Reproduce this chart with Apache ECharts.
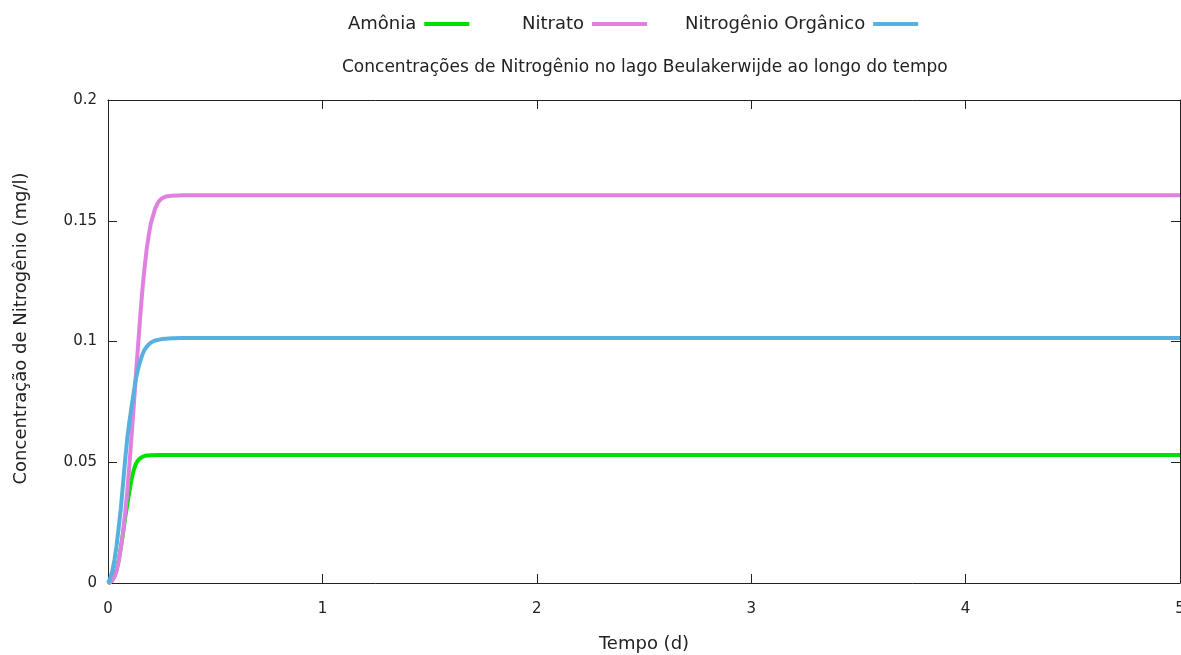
<!DOCTYPE html>
<html>
<head>
<meta charset="utf-8">
<script src="https://cdn.jsdelivr.net/npm/echarts@6/dist/echarts.min.js"></script>
<style>
html,body{margin:0;padding:0;background:#fff;}
#chart{width:1181px;height:655px;}
</style>
</head>
<body>
<div id="chart"></div>
<script>
// ---- data ----
const seriesNames = ['Amônia', 'Nitrato', 'Nitrogênio Orgânico'];
const xTicks = [0, 1, 2, 3, 4, 5];
const yTicks = [0, 0.05, 0.1, 0.15, 0.2];

const amoniaT = [0, 0.01, 0.02, 0.03, 0.04, 0.05, 0.06, 0.07, 0.08, 0.09, 0.10, 0.11, 0.12, 0.13, 0.14, 0.15, 0.16, 0.17, 0.18, 0.20, 0.25, 0.3, 1, 2, 3, 4, 5];
const amoniaV = [0, 0.0003, 0.0012, 0.0028, 0.0055, 0.0095, 0.0148, 0.0205, 0.027, 0.0325, 0.038, 0.043, 0.0467, 0.0493, 0.0508, 0.0517, 0.0522, 0.0526, 0.0528, 0.0529, 0.053, 0.053, 0.053, 0.053, 0.053, 0.053, 0.053];

const nitratoT = [0, 0.01, 0.02, 0.03, 0.04, 0.05, 0.06, 0.07, 0.08, 0.09, 0.10, 0.11, 0.12, 0.13, 0.14, 0.15, 0.16, 0.17, 0.18, 0.19, 0.20, 0.21, 0.22, 0.23, 0.24, 0.25, 0.27, 0.30, 0.35, 1, 2, 3, 4, 5];
const nitratoV = [0, 0.0003, 0.001, 0.0025, 0.005, 0.009, 0.0145, 0.021, 0.029, 0.038, 0.049, 0.061, 0.073, 0.086, 0.098, 0.110, 0.121, 0.130, 0.138, 0.144, 0.149, 0.152, 0.155, 0.157, 0.1583, 0.1592, 0.160, 0.1604, 0.1606, 0.1606, 0.1606, 0.1606, 0.1606, 0.1606];

const organicoT = [0, 0.01, 0.02, 0.03, 0.04, 0.05, 0.06, 0.07, 0.08, 0.09, 0.10, 0.11, 0.12, 0.13, 0.14, 0.15, 0.16, 0.17, 0.18, 0.19, 0.20, 0.22, 0.25, 0.30, 0.35, 1, 2, 3, 4, 5];
const organicoV = [0, 0.0018, 0.005, 0.0095, 0.0155, 0.023, 0.031, 0.041, 0.051, 0.060, 0.067, 0.073, 0.079, 0.0845, 0.0885, 0.0918, 0.0945, 0.0965, 0.0978, 0.0988, 0.0996, 0.1004, 0.101, 0.1013, 0.1014, 0.1014, 0.1014, 0.1014, 0.1014, 0.1014];

const titleText = 'Concentrações de Nitrogênio no lago Beulakerwijde ao longo do tempo';
const xName = 'Tempo (d)';
const yName = 'Concentração de Nitrogênio (mg/l)';

// ---- chart ----
const FONT = 'DejaVu Sans, sans-serif';
const TXT = '#222';
const colors = ['#00e000', '#e080e0', '#56b0e0'];
const zip = (t, v) => t.map((x, i) => [x, v[i]]);

const gridL = 108, gridT = 100, gridW = 1072, gridH = 483;

function legendAt(name, left, w) {
  return {
    data: [name], left: left, top: 10, align: 'right',
    icon: 'rect', itemWidth: w, itemHeight: 4, itemGap: 0,
    textStyle: {fontFamily: FONT, fontSize: 18, color: TXT, padding: [0, 3, 0, 0]}
  };
}

const chart = echarts.init(document.getElementById('chart'), null, {renderer: 'canvas'});
const axisCommon = {
  min: 0,
  axisLine: {show: true, onZero: false, lineStyle: {color: '#222', width: 1}},
  axisTick: {show: true, inside: true, length: 9, lineStyle: {color: '#222'}},
  splitLine: {show: false}
};
chart.setOption({
  animation: false,
  backgroundColor: '#fff',
  color: colors,
  title: {
    text: titleText, left: 337, top: 54,
    textStyle: {fontFamily: FONT, fontSize: 17, fontWeight: 'normal', color: TXT}
  },
  legend: [legendAt(seriesNames[0], 343, 45), legendAt(seriesNames[1], 517, 55), legendAt(seriesNames[2], 680, 45)],
  grid: {left: gridL, top: gridT, width: gridW, height: gridH, containLabel: false, outerBoundsMode: 'none'},
  xAxis: [
    Object.assign({}, axisCommon, {
      type: 'value', max: 5, interval: 1, position: 'bottom',
      axisLabel: {margin: 19, fontFamily: FONT, fontSize: 15, color: TXT, formatter: v => xTicks.includes(v) ? String(v) : ''},
      name: xName, nameLocation: 'middle', nameGap: 52,
      nameTextStyle: {fontFamily: FONT, fontSize: 18, color: TXT}
    }),
    Object.assign({}, axisCommon, {
      type: 'value', max: 5, interval: 1, position: 'top', axisLabel: {show: false}
    })
  ],
  yAxis: [
    Object.assign({}, axisCommon, {
      type: 'value', max: 0.2, interval: 0.05, position: 'left',
      axisLabel: {margin: 11, fontFamily: FONT, fontSize: 15, color: TXT, formatter: v => String(+v.toFixed(2))},
      name: yName, nameLocation: 'middle', nameGap: 78, nameRotate: 90,
      nameTextStyle: {fontFamily: FONT, fontSize: 18, color: TXT, padding: [0, 0, 0, 26]}
    }),
    Object.assign({}, axisCommon, {
      type: 'value', max: 0.2, interval: 0.05, position: 'right', axisLabel: {show: false}
    })
  ],
  series: [
    {name: seriesNames[0], type: 'line', data: zip(amoniaT, amoniaV), showSymbol: false, smooth: false, lineStyle: {width: 4, color: colors[0]}, itemStyle: {color: colors[0]}},
    {name: seriesNames[1], type: 'line', data: zip(nitratoT, nitratoV), showSymbol: false, smooth: false, lineStyle: {width: 4, color: colors[1]}, itemStyle: {color: colors[1]}},
    {name: seriesNames[2], type: 'line', data: zip(organicoT, organicoV), showSymbol: false, smooth: false, lineStyle: {width: 4, color: colors[2]}, itemStyle: {color: colors[2]}}
  ]
});
</script>
</body>
</html>
